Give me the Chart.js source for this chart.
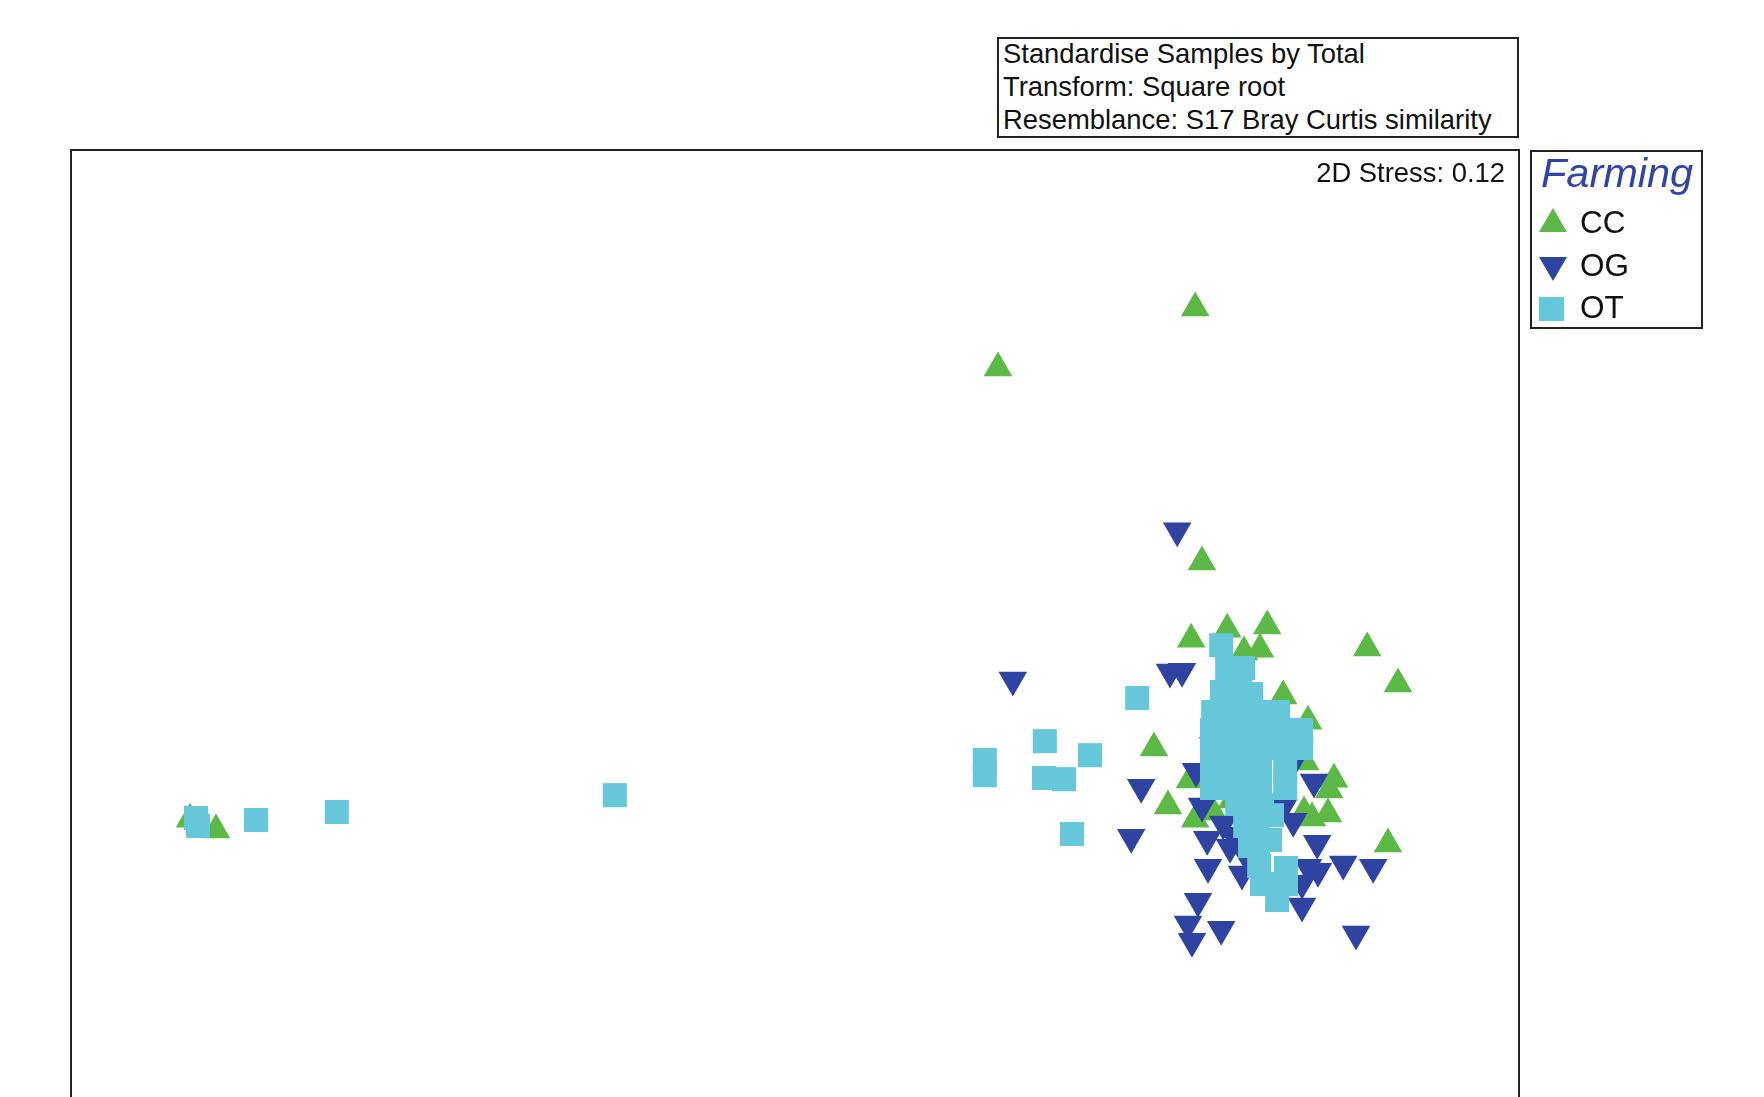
<!DOCTYPE html>
<html>
<head>
<meta charset="utf-8">
<title>nMDS ordination – Farming</title>
<script src="https://cdn.jsdelivr.net/npm/chart.js@4.4.1/dist/chart.umd.min.js"></script>
<style>
  html, body { margin: 0; padding: 0; background: #fff; width: 1764px; height: 1097px; overflow: hidden; }
  body { position: relative; font-family: "Liberation Sans", Arial, sans-serif; color: #111; }
  #plot { position: absolute; left: 0; top: 0; }
  .box { position: absolute; box-sizing: border-box; border: 2px solid #222; background: #fff; }
  #info { left: 997px; top: 37px; width: 522px; height: 101px; font-size: 27.4px; line-height: 33px; padding-left: 4px; }
  #info div { position: relative; top: -2px; white-space: nowrap; }
  #stress { position: absolute; right: 259px; top: 158px; font-size: 27.4px; line-height: 30px; white-space: nowrap; }
  #legend { left: 1530px; top: 150px; width: 173px; height: 179px; }
  #legend .title { position: absolute; left: 9px; top: -1px; font-size: 41.5px; line-height: 44px; font-style: italic; color: #2f43a8; white-space: nowrap; }
  .item { position: absolute; left: 1580px; font-size: 31.5px; line-height: 36px; white-space: nowrap; }
  .mark { position: absolute; }
</style>
</head>
<body>
<canvas id="plot" width="1764" height="1120"></canvas>

<div id="info" class="box">
  <div>Standardise Samples by Total</div>
  <div>Transform: Square root</div>
  <div>Resemblance: S17 Bray Curtis similarity</div>
</div>
<div id="stress">2D Stress: 0.12</div>

<div id="legend" class="box"><div class="title">Farming</div></div>
<svg class="mark" style="left:1538px;top:207px" width="30" height="26"><polygon points="15,1 29,25 1,25" fill="#5cb946"/></svg>
<div class="item" style="top:204px">CC</div>
<svg class="mark" style="left:1538px;top:256px" width="30" height="26"><polygon points="1,1 29,1 15,25" fill="#2f43a3"/></svg>
<div class="item" style="top:247px">OG</div>
<svg class="mark" style="left:1539px;top:296px" width="26" height="26"><rect x="0" y="1" width="25" height="24" fill="#65c7d9"/></svg>
<div class="item" style="top:289px">OT</div>

<script>
// nMDS coordinates (axis 1 = x, axis 2 = y) for each farming type
const groups = ['CC', 'OG', 'OT'];

const ccX = [0.238, -0.255, 0.255, -2.275, -2.210, 0.228, 0.318, 0.418, 0.360, 0.400,
             0.668, 0.745, 0.458, 0.520, 0.135, 0.513, 0.585, 0.573, 0.170, 0.238,
             0.570, 0.510, 0.720, 0.288, 0.225, 0.283, 0.330, 0.530];
const ccY = [0.730, 0.580, 0.095, -0.548, -0.575, -0.098, -0.073, -0.065, -0.130, -0.123,
             -0.120, -0.210, -0.240, -0.303, -0.370, -0.405, -0.448, -0.475, -0.515, -0.548,
             -0.535, -0.530, -0.610, -0.400, -0.450, -0.530, -0.500, -0.545];

const ogX = [0.193, -0.218, 0.175, 0.205, 0.103, 0.078, 0.240, 0.535, 0.268, 0.270,
             0.355, 0.245, 0.220, 0.230, 0.303, 0.505, 0.640, 0.608, 0.683, 0.543,
             0.545, 0.505, 0.483, 0.458, 0.325, 0.363, 0.308, 0.520, 0.255, 0.333,
             0.283, 0.475];
const ogY = [0.173, -0.200, -0.180, -0.178, -0.468, -0.593, -0.428, -0.455, -0.598, -0.668,
             -0.685, -0.753, -0.810, -0.853, -0.823, -0.765, -0.835, -0.660, -0.668, -0.608,
             -0.678, -0.708, -0.553, -0.518, -0.618, -0.635, -0.560, -0.668, -0.515, -0.588,
             -0.363, -0.420];

const otX = [-2.260, -2.255, -2.110, -1.908, -1.213, -0.288, -0.288, -0.138, -0.025, -0.140,
             -0.090, -0.070, 0.093, 0.303, 0.318, 0.358, 0.305, 0.350, 0.378, 0.283,
             0.338, 0.390, 0.445, 0.280, 0.335, 0.390, 0.450, 0.503, 0.280, 0.335,
             0.395, 0.455, 0.503, 0.280, 0.340, 0.400, 0.463, 0.280, 0.340, 0.400,
             0.463, 0.363, 0.405, 0.363, 0.395, 0.375, 0.395, 0.398, 0.465, 0.405,
             0.465, 0.443, 0.430, 0.425, 0.343];
const otY = [-0.545, -0.565, -0.550, -0.530, -0.488, -0.400, -0.438, -0.353, -0.388, -0.445,
             -0.448, -0.585, -0.245, -0.113, -0.170, -0.170, -0.230, -0.230, -0.235, -0.280,
             -0.280, -0.280, -0.280, -0.325, -0.325, -0.325, -0.325, -0.325, -0.370, -0.370,
             -0.370, -0.370, -0.370, -0.420, -0.420, -0.420, -0.420, -0.470, -0.470, -0.470,
             -0.470, -0.513, -0.513, -0.565, -0.565, -0.615, -0.615, -0.665, -0.670, -0.710,
             -0.710, -0.750, -0.538, -0.600, -0.510];

const colours = { CC: '#5cb946', OG: '#2f43a3', OT: '#65c7d9' };

const toPoints = (xs, ys) => xs.map((x, i) => ({ x, y: ys[i] }));

// Black frame around the ordination area
const frame = {
  id: 'frame',
  afterDatasetsDraw(chart) {
    const { ctx, chartArea: a } = chart;
    ctx.save();
    ctx.strokeStyle = '#222';
    ctx.lineWidth = 2;
    ctx.strokeRect(a.left, a.top, a.right - a.left, a.bottom - a.top);
    ctx.restore();
  }
};

new Chart(document.getElementById('plot'), {
  type: 'scatter',
  data: {
    datasets: [
      { label: groups[0], data: toPoints(ccX, ccY), pointStyle: 'triangle', pointRadius: 16.5,
        pointRotation: 0, backgroundColor: colours.CC, pointBorderWidth: 0, order: 2 },
      { label: groups[1], data: toPoints(ogX, ogY), pointStyle: 'triangle', pointRadius: 16.5,
        pointRotation: 180, backgroundColor: colours.OG, pointBorderWidth: 0, order: 1 },
      { label: groups[2], data: toPoints(otX, otY), pointStyle: 'rect', pointRadius: 17,
        backgroundColor: colours.OT, pointBorderWidth: 0, order: 0 }
    ]
  },
  options: {
    responsive: false,
    animation: false,
    devicePixelRatio: 1,
    events: [],
    layout: { autoPadding: false, padding: { left: 71, right: 245, top: 150, bottom: 15 } },
    scales: {
      x: { type: 'linear', display: false, min: -2.5725, max: 1.0475 },
      y: { type: 'linear', display: false, min: -1.2625, max: 1.125 }
    },
    plugins: { legend: { display: false }, tooltip: { enabled: false } }
  },
  plugins: [frame]
});
</script>
</body>
</html>
